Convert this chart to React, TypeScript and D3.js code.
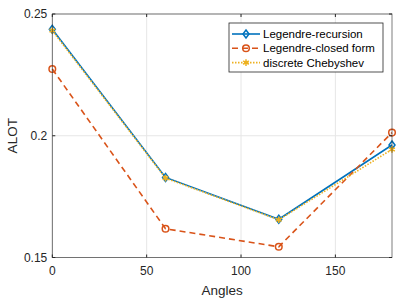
import React from "react";
import * as d3 from "d3";

const angles = [0, 60, 120, 180];
const legendreRecursion = [0.2437, 0.1829, 0.1657, 0.1962];
const legendreClosed = [0.2274, 0.1618, 0.1544, 0.2013];
const discreteChebyshev = [0.2432, 0.1826, 0.1655, 0.1944];
const seriesNames = ["Legendre-recursion", "Legendre-closed form", "discrete Chebyshev"];
const xTicks = [0, 50, 100, 150];
const yTicks = [0.15, 0.2, 0.25];
const yTickLabels = ["0.15", "0.2", "0.25"];

const W = 399, H = 299;
const m = { left: 52.3, right: 7, top: 14, bottom: 41.5 };
const font = "'Liberation Sans', Arial, Helvetica, sans-serif";

export default function App() {
  const x = d3.scaleLinear().domain([0, 180]).range([m.left, W - m.right]);
  const y = d3.scaleLinear().domain([0.15, 0.25]).range([H - m.bottom, m.top]);
  const line = d3.line<number>().x((_, i) => x(angles[i])).y((d) => y(d));
  const series = [
    { name: seriesNames[0], data: legendreRecursion, color: "#0072BD", dash: "", marker: "diamond" },
    { name: seriesNames[1], data: legendreClosed, color: "#D95319", dash: "6,4", marker: "circle" },
    { name: seriesNames[2], data: discreteChebyshev, color: "#EDB120", dash: "1.5,1.5", marker: "asterisk" },
  ];
  const marker = (type: string, cx: number, cy: number, color: string, key: any) => {
    if (type === "diamond") {
      const r = 4;
      return <path key={key} d={`M${cx},${cy - r}L${cx + r * 0.75},${cy}L${cx},${cy + r}L${cx - r * 0.75},${cy}Z`} fill="none" stroke={color} strokeWidth={1.5} />;
    }
    if (type === "circle") {
      return <circle key={key} cx={cx} cy={cy} r={3.3} fill="none" stroke={color} strokeWidth={1.5} />;
    }
    const p = d3.symbol().type(d3.symbolAsterisk).size(30)();
    return <path key={key} d={p || ""} transform={`translate(${cx},${cy})`} fill="none" stroke={color} strokeWidth={1.5} />;
  };
  const x0 = m.left, x1 = W - m.right, y0 = H - m.bottom, y1 = m.top;
  const lg = { x: 229, y: 23, w: 154, h: 49 };
  return (
    <svg width={W} height={H} style={{ position: "absolute", left: 0, top: 0 }} fontFamily={font}>
      <rect x={0} y={0} width={W} height={H} fill="#fff" />
      {xTicks.map((t) => (
        <line key={"gx" + t} x1={x(t)} x2={x(t)} y1={y0} y2={y1} stroke="#e6e6e6" strokeWidth={1} />
      ))}
      {yTicks.map((t) => (
        <line key={"gy" + t} x1={x0} x2={x1} y1={y(t)} y2={y(t)} stroke="#e6e6e6" strokeWidth={1} />
      ))}
      {series.map((s, si) => (
        <g key={si}>
          <path d={line(s.data) || ""} fill="none" stroke={s.color} strokeWidth={1.6} strokeDasharray={s.dash} />
          {s.data.map((v, i) => marker(s.marker, x(angles[i]), y(v), s.color, i))}
        </g>
      ))}
      <rect x={x0} y={y1} width={x1 - x0} height={y0 - y1} fill="none" stroke="#262626" strokeWidth={0.8} strokeOpacity={0.75} />
      {xTicks.map((t) => (
        <g key={"xt" + t}>
          <line x1={x(t)} x2={x(t)} y1={y0} y2={y0 - 3} stroke="#262626" />
          <line x1={x(t)} x2={x(t)} y1={y1} y2={y1 + 3} stroke="#262626" />
          <text x={x(t)} y={y0 + 17.5} textAnchor="middle" fontSize={12} fill="#262626">{t}</text>
        </g>
      ))}
      {yTicks.map((t, i) => (
        <g key={"yt" + t}>
          <line x1={x0} x2={x0 + 3} y1={y(t)} y2={y(t)} stroke="#262626" />
          <line x1={x1} x2={x1 - 3} y1={y(t)} y2={y(t)} stroke="#262626" />
          <text x={x0 - 5} y={y(t) + 4.3} textAnchor="end" fontSize={12} fill="#262626">{yTickLabels[i]}</text>
        </g>
      ))}
      <text x={(x0 + x1) / 2} y={295} textAnchor="middle" fontSize={13.5} fill="#262626">Angles</text>
      <text transform={`translate(16.5,${(y0 + y1) / 2}) rotate(-90)`} textAnchor="middle" fontSize={13.5} fill="#262626">ALOT</text>
      <rect x={lg.x} y={lg.y} width={lg.w} height={lg.h} fill="#fff" stroke="#262626" strokeWidth={0.8} />
      {series.map((s, i) => {
        const cy = lg.y + 11 + i * 14.3;
        return (
          <g key={"lg" + i}>
            <line x1={lg.x + 3} x2={lg.x + 31} y1={cy} y2={cy} stroke={s.color} strokeWidth={1.6} strokeDasharray={s.dash} />
            {marker(s.marker, lg.x + 17, cy, s.color, "m")}
            <text x={lg.x + 34} y={cy + 4} fontSize={11.5} fill="#000">{s.name}</text>
          </g>
        );
      })}
    </svg>
  );
}
